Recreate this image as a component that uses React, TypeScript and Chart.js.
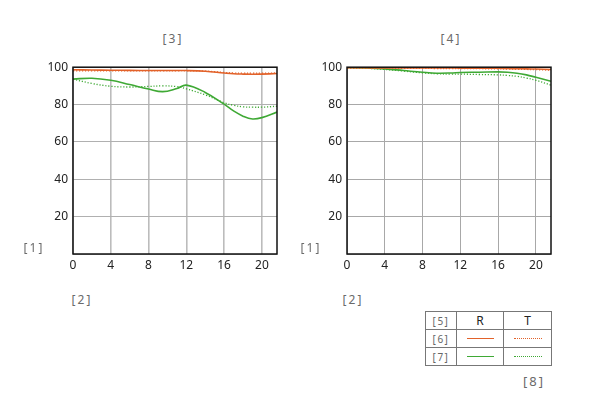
import React, { useEffect, useRef } from "react";
import { Chart, registerables } from "chart.js";

Chart.register(...registerables);

const X_POS = [0, 2, 4, 6, 8, 9.5, 11, 12, 14, 16, 17, 18, 19, 20, 21.6];

const LEFT_ORANGE_R = [98.6, 98.5, 98.4, 98.3, 98.2, 98.2, 98.2, 98.2, 97.8, 96.9, 96.5, 96.3, 96.2, 96.3, 96.6];
const LEFT_ORANGE_T = [98.1, 98.0, 98.0, 98.0, 98.0, 98.0, 98.1, 98.1, 97.9, 97.2, 96.9, 96.8, 96.8, 96.8, 96.9];
const LEFT_GREEN_R = [93.6, 94.1, 93.0, 90.7, 88.3, 86.9, 88.6, 90.4, 86.5, 80.2, 76.6, 73.8, 72.3, 73.0, 76.0];
const LEFT_GREEN_T = [93.6, 91.3, 89.8, 89.4, 89.7, 90.0, 89.6, 88.4, 85.2, 81.0, 79.6, 78.8, 78.6, 78.6, 79.1];

const RIGHT_ORANGE_R = [99.7, 99.7, 99.6, 99.6, 99.6, 99.6, 99.6, 99.5, 99.5, 99.4, 99.3, 99.2, 99.1, 99.0, 98.8];
const RIGHT_ORANGE_T = [99.5, 99.5, 99.5, 99.4, 99.4, 99.3, 99.3, 99.3, 99.2, 99.1, 99.0, 98.9, 98.8, 98.7, 98.4];
const RIGHT_GREEN_R = [99.8, 99.6, 99.1, 98.2, 97.3, 96.8, 96.9, 97.2, 97.3, 97.5, 97.3, 96.8, 95.9, 94.6, 92.5];
const RIGHT_GREEN_T = [99.6, 99.4, 98.8, 97.9, 97.0, 96.5, 96.3, 96.3, 96.1, 95.9, 95.6, 95.1, 94.2, 93.0, 90.4];

const X_MAX = 21.6;
const Y_TICK_STEP = 20;
const X_TICK_STEP = 4;

const ORANGE = "#e2622a";
const GREEN = "#3fa935";
const FONT = "'Noto Sans', 'Open Sans', sans-serif";

const frame = {
  id: "frame",
  afterDraw(chart: any) {
    const { ctx, chartArea } = chart;
    ctx.save();
    ctx.strokeStyle = "#111";
    ctx.lineWidth = 1.5;
    ctx.strokeRect(chartArea.left, chartArea.top, chartArea.right - chartArea.left, chartArea.bottom - chartArea.top);
    ctx.restore();
  },
};

function toPts(ys: number[]) {
  return ys.map((y, i) => ({ x: X_POS[i], y }));
}

function line(ys: number[], color: string, dotted: boolean) {
  return {
    data: toPts(ys),
    borderColor: color,
    borderWidth: dotted ? 1.3 : 1.6,
    borderDash: dotted ? [1.2, 1.8] : [],
    pointRadius: 0,
    tension: 0.4,
    fill: false,
  };
}

function MtfChart(props: {
  left: number;
  width: number;
  yWidth: number;
  padRight: number;
  series: number[][];
  gridX: string;
  gridXW: number;
  gridY: string;
  gridYW: number;
}) {
  const ref = useRef<HTMLCanvasElement | null>(null);
  useEffect(() => {
    if (!ref.current) return;
    const [oR, oT, gR, gT] = props.series;
    const chart = new Chart(ref.current, {
      type: "line",
      data: {
        datasets: [line(oT, ORANGE, true), line(oR, ORANGE, false), line(gT, GREEN, true), line(gR, GREEN, false)],
      },
      options: {
        animation: false,
        responsive: false,
        layout: { padding: { top: 11, right: props.padRight, left: 0, bottom: 0 } },
        plugins: { legend: { display: false }, tooltip: { enabled: false } },
        scales: {
          x: {
            type: "linear",
            min: 0,
            max: X_MAX,
            afterFit: (s: any) => {
              s.height = 26;
            },
            ticks: {
              stepSize: X_TICK_STEP,
              includeBounds: false,
              color: "#222",
              font: { family: FONT, size: 12 },
              padding: 4,
              maxRotation: 0,
            },
            grid: { color: props.gridX, lineWidth: props.gridXW, drawTicks: false },
            border: { display: false },
          },
          y: {
            min: 0,
            max: 100,
            afterFit: (s: any) => {
              s.width = props.yWidth;
            },
            ticks: {
              stepSize: Y_TICK_STEP,
              color: "#222",
              font: { family: FONT, size: 12 },
              padding: 5,
              callback: (v: any) => (v === 0 ? "" : String(v)),
            },
            grid: { color: props.gridY, lineWidth: props.gridYW, drawTicks: false },
            border: { display: false },
          },
        },
      },
      plugins: [frame],
    });
    return () => chart.destroy();
  }, []);
  return (
    <canvas
      ref={ref}
      width={props.width}
      height={225}
      style={{ position: "absolute", left: props.left, top: 55, width: props.width, height: 225 }}
    />
  );
}

const lbl = (text: string, cx: number, cy: number, size = 12) => (
  <div
    style={{
      position: "absolute",
      left: cx - 30,
      top: cy - size * 0.7,
      width: 60,
      textAlign: "center",
      fontFamily: FONT,
      fontSize: size,
      color: "#6a6a6a",
      letterSpacing: 2,
      lineHeight: `${size * 1.4}px`,
    }}
  >
    {text}
  </div>
);

const cell: React.CSSProperties = {
  border: "1px solid #777",
  padding: 0,
  height: 17,
  textAlign: "center",
  verticalAlign: "middle",
  fontFamily: FONT,
};

export default function App() {
  return (
    <div style={{ position: "absolute", left: 0, top: 0, width: 600, height: 400, background: "#fff", overflow: "hidden" }}>
      <MtfChart
        left={20}
        width={270}
        yWidth={53}
        padRight={13}
        series={[LEFT_ORANGE_R, LEFT_ORANGE_T, LEFT_GREEN_R, LEFT_GREEN_T]}
        gridX="#bcbcbc"
        gridXW={1.6}
        gridY="#b0b0b0"
        gridYW={1}
      />
      <MtfChart
        left={295}
        width={270}
        yWidth={52}
        padRight={14}
        series={[RIGHT_ORANGE_R, RIGHT_ORANGE_T, RIGHT_GREEN_R, RIGHT_GREEN_T]}
        gridX="#a8a8a8"
        gridXW={1}
        gridY="#a8a8a8"
        gridYW={1}
      />
      {lbl("[3]", 173, 39)}
      {lbl("[4]", 451, 39)}
      {lbl("[1]", 34, 248)}
      {lbl("[1]", 311, 248)}
      {lbl("[2]", 82, 300)}
      {lbl("[2]", 353, 300)}
      {lbl("[8]", 534, 381, 13)}
      <table
        style={{
          position: "absolute",
          left: 425,
          top: 311,
          borderCollapse: "collapse",
          tableLayout: "fixed",
          width: 127,
        }}
      >
        <tbody>
          <tr>
            <td style={{ ...cell, width: 30, fontSize: 10, color: "#666", letterSpacing: 1.5 }}>[5]</td>
            <td style={{ ...cell, width: 46, fontSize: 12, color: "#222" }}>R</td>
            <td style={{ ...cell, width: 47, fontSize: 12, color: "#222" }}>T</td>
          </tr>
          <tr>
            <td style={{ ...cell, fontSize: 10, color: "#666", letterSpacing: 1.5 }}>[6]</td>
            <td style={cell}>
              <div style={{ width: 27, margin: "0 auto", borderTop: `1.5px solid ${ORANGE}` }} />
            </td>
            <td style={cell}>
              <div style={{ width: 28, margin: "0 auto", borderTop: `1px dotted ${ORANGE}` }} />
            </td>
          </tr>
          <tr>
            <td style={{ ...cell, fontSize: 10, color: "#666", letterSpacing: 1.5 }}>[7]</td>
            <td style={cell}>
              <div style={{ width: 27, margin: "0 auto", borderTop: `1.5px solid ${GREEN}` }} />
            </td>
            <td style={cell}>
              <div style={{ width: 28, margin: "0 auto", borderTop: `1px dotted ${GREEN}` }} />
            </td>
          </tr>
        </tbody>
      </table>
    </div>
  );
}
